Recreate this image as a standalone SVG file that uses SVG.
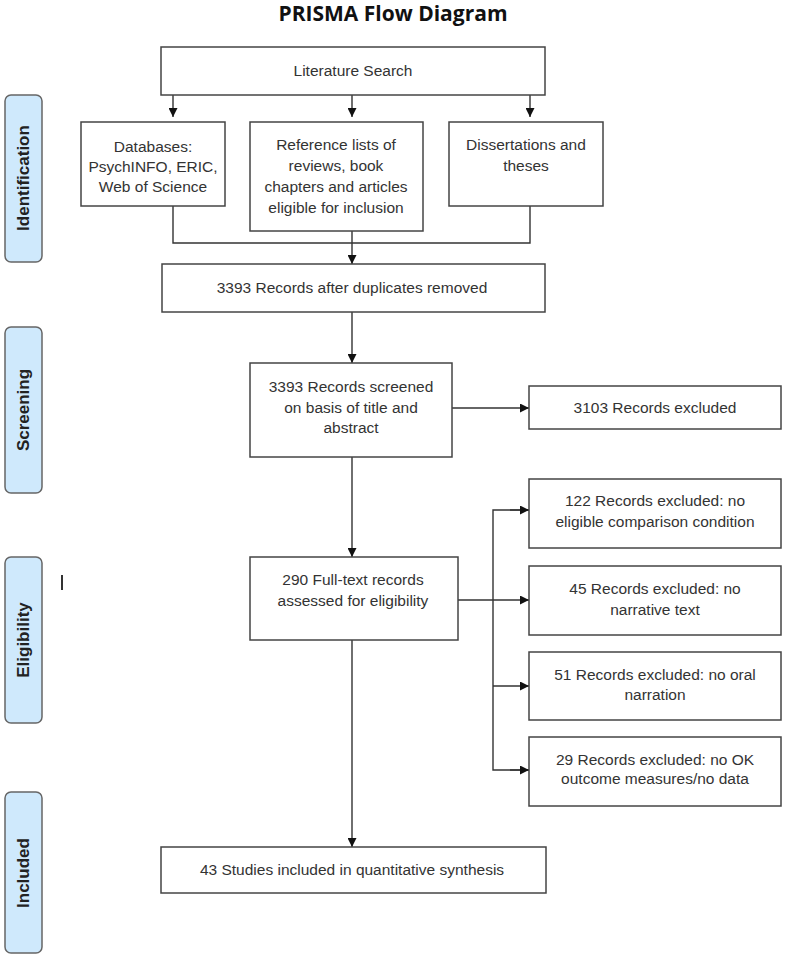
<svg xmlns="http://www.w3.org/2000/svg" width="786" height="963" viewBox="0 0 786 963">
<style>
.box{fill:#fff;stroke:#444;stroke-width:1.5}
.lab{fill:#cfe9fc;stroke:#666;stroke-width:1.5}
.t{font-family:"Liberation Sans",Arial,sans-serif;font-size:15.5px;fill:#333;text-anchor:middle}
.lt{font-family:"Liberation Sans",Arial,sans-serif;font-size:17px;font-weight:bold;fill:#222;text-anchor:middle}
.title{font-family:"Open Sans","Liberation Sans",sans-serif;font-size:21px;font-weight:bold;fill:#111;text-anchor:middle}
.c{fill:none;stroke:#333;stroke-width:1.4}
</style>
<defs>
<marker id="ah" viewBox="0 0 10 10" refX="10" refY="5" markerWidth="9" markerHeight="9" markerUnits="userSpaceOnUse" orient="auto">
<path d="M0,0 L10,5 L0,10 z" fill="#111"/>
</marker>
</defs>
<text class="title" x="393" y="21">PRISMA Flow Diagram</text>

<g id="label-identification"><rect class="lab" x="5" y="95" width="37" height="167" rx="6"/><text class="lt" transform="rotate(-90 23 178)" x="23" y="184">Identification</text></g>
<g id="label-screening"><rect class="lab" x="5" y="327" width="37" height="166" rx="6"/><text class="lt" transform="rotate(-90 23 410)" x="23" y="416">Screening</text></g>
<g id="label-eligibility"><rect class="lab" x="5" y="557" width="37" height="166" rx="6"/><text class="lt" transform="rotate(-90 23 640)" x="23" y="646">Eligibility</text></g>
<g id="label-included"><rect class="lab" x="5" y="792" width="37" height="161" rx="6"/><text class="lt" transform="rotate(-90 23 873)" x="23" y="879">Included</text></g>
<line x1="62" y1="575" x2="62" y2="590" stroke="#333" stroke-width="2"/>

<g id="connectors">
<path class="c" d="M173,95 V117" marker-end="url(#ah)"/>
<path class="c" d="M352,95 V117" marker-end="url(#ah)"/>
<path class="c" d="M530,95 V117" marker-end="url(#ah)"/>
<path class="c" d="M173,206 V243 H530 V206"/>
<path class="c" d="M352,231 V264" marker-end="url(#ah)"/>
<path class="c" d="M352,312 V363" marker-end="url(#ah)"/>
<path class="c" d="M452,408 H529" marker-end="url(#ah)"/>
<path class="c" d="M352,457 V557" marker-end="url(#ah)"/>
<path class="c" d="M458,600 H529" marker-end="url(#ah)"/>
<path class="c" d="M529,510 H493 V770 H529" />
<path class="c" d="M510,510 H529" marker-end="url(#ah)"/>
<path class="c" d="M510,770 H529" marker-end="url(#ah)"/>
<path class="c" d="M493,686 H529" marker-end="url(#ah)"/>
<path class="c" d="M352,640 V847" marker-end="url(#ah)"/>
</g>

<g id="literature-search"><rect class="box" x="161" y="47" width="384" height="48"/><text class="t" x="353" y="76">Literature Search</text></g>
<g id="databases"><rect class="box" x="81" y="122" width="144" height="84"/><text class="t" x="153" y="152">Databases:</text><text class="t" x="153" y="172">PsychINFO, ERIC,</text><text class="t" x="153" y="192">Web of Science</text></g>
<g id="reference-lists"><rect class="box" x="250" y="122" width="173" height="109"/><text class="t" x="336" y="150">Reference lists of</text><text class="t" x="336" y="171">reviews, book</text><text class="t" x="336" y="192">chapters and articles</text><text class="t" x="336" y="213">eligible for inclusion</text></g>
<g id="dissertations"><rect class="box" x="449" y="122" width="154" height="84"/><text class="t" x="526" y="150">Dissertations and</text><text class="t" x="526" y="171">theses</text></g>
<g id="after-duplicates"><rect class="box" x="162" y="264" width="383" height="48"/><text class="t" x="352" y="293">3393 Records after duplicates removed</text></g>
<g id="screened"><rect class="box" x="250" y="363" width="202" height="94"/><text class="t" x="351" y="392">3393 Records screened</text><text class="t" x="351" y="413">on basis of title and</text><text class="t" x="351" y="433">abstract</text></g>
<g id="excluded-3103"><rect class="box" x="529" y="386" width="252" height="43"/><text class="t" x="655" y="413">3103 Records excluded</text></g>
<g id="fulltext"><rect class="box" x="250" y="557" width="208" height="83"/><text class="t" x="353" y="585">290 Full-text records</text><text class="t" x="353" y="606">assessed for eligibility</text></g>
<g id="excluded-122"><rect class="box" x="529" y="479" width="252" height="69"/><text class="t" x="655" y="506">122 Records excluded: no</text><text class="t" x="655" y="527">eligible comparison condition</text></g>
<g id="excluded-45"><rect class="box" x="529" y="566" width="252" height="69"/><text class="t" x="655" y="594">45 Records excluded: no</text><text class="t" x="655" y="615">narrative text</text></g>
<g id="excluded-51"><rect class="box" x="529" y="652" width="252" height="68"/><text class="t" x="655" y="680">51 Records excluded: no oral</text><text class="t" x="655" y="700">narration</text></g>
<g id="excluded-29"><rect class="box" x="529" y="737" width="252" height="69"/><text class="t" x="655" y="765">29 Records excluded: no OK</text><text class="t" x="655" y="784">outcome measures/no data</text></g>
<g id="included"><rect class="box" x="161" y="847" width="385" height="46"/><text class="t" x="352" y="875">43 Studies included in quantitative synthesis</text></g>
</svg>
